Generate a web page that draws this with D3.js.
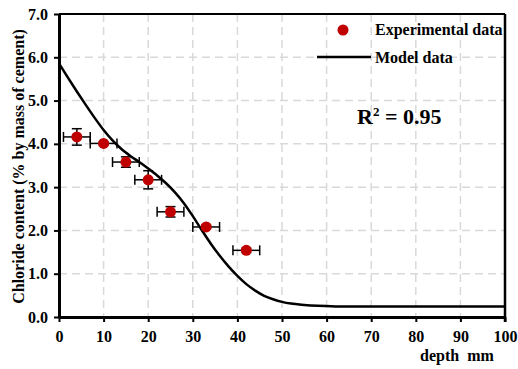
<!DOCTYPE html>
<html lang="en">
<head>
<meta charset="UTF-8">
<title>Chloride profile</title>
<script src="https://d3js.org/d3.v7.min.js"></script>
<style>
    body { margin: 0; background: #fff; }
    svg { display: block; font-family: "Liberation Serif", "Times New Roman", serif; font-weight: bold; }
</style>
</head>
<body>
<svg id="chart" width="518" height="369"></svg>
<script>
    // experimental points
    const expDepth = [4, 10, 15, 20, 25, 33, 42];
    const expValue = [4.16, 4.01, 3.58, 3.17, 2.43, 2.08, 1.54];
    const expErrX = [3, 3, 3, 3, 3, 3, 3];
    const expErrY = [0.19, 0.03, 0.12, 0.21, 0.12, 0.04, 0.05];

    // model curve
    const modelDepth = [0, 2, 4, 6, 8, 10, 12, 14, 16, 18, 20, 22, 24, 26, 28, 30, 32, 34, 36, 38, 40, 42, 44, 46, 48, 50, 52, 55, 58, 62, 66, 70, 80, 90, 100];
    const modelValue = [5.86, 5.53, 5.21, 4.90, 4.60, 4.32, 4.08, 3.88, 3.72, 3.58, 3.43, 3.27, 3.09, 2.88, 2.63, 2.33, 2.01, 1.70, 1.42, 1.17, 0.95, 0.76, 0.61, 0.49, 0.41, 0.35, 0.31, 0.28, 0.26, 0.245, 0.24, 0.24, 0.24, 0.24, 0.24];

    const xTicks = [0, 10, 20, 30, 40, 50, 60, 70, 80, 90, 100];
    const yTicks = [0, 1, 2, 3, 4, 5, 6, 7];

    const svg = d3.select("#chart");
    const pLeft = 59, pRight = 505, pTop = 14, pBottom = 317;

    const x = d3.scaleLinear().domain([0, 100]).range([pLeft, pRight]);
    const y = d3.scaleLinear().domain([0, 7]).range([pBottom, pTop]);

    // grid
    svg.append("g").selectAll("line")
        .data(xTicks.slice(1, -1))
        .join("line")
        .attr("x1", d => x(d)).attr("x2", d => x(d))
        .attr("y1", pTop).attr("y2", pBottom)
        .attr("stroke", "#d9d9d9").attr("stroke-width", 1.5)
        .attr("stroke-dasharray", "8,5");
    svg.append("g").selectAll("line")
        .data(yTicks.slice(1, -1))
        .join("line")
        .attr("x1", pLeft).attr("x2", pRight)
        .attr("y1", d => y(d)).attr("y2", d => y(d))
        .attr("stroke", "#d9d9d9").attr("stroke-width", 1.5)
        .attr("stroke-dasharray", "8,5");

    // frame top / right
    svg.append("line").attr("x1", pLeft).attr("x2", pRight).attr("y1", pTop).attr("y2", pTop)
        .attr("stroke", "#000").attr("stroke-width", 2);
    svg.append("line").attr("x1", pRight).attr("x2", pRight).attr("y1", pTop).attr("y2", pBottom + 5)
        .attr("stroke", "#000").attr("stroke-width", 2.5);

    // axes
    const xAxis = svg.append("g")
        .attr("transform", `translate(0,${pBottom})`)
        .call(d3.axisBottom(x).tickValues(xTicks).tickFormat(d3.format("d")).tickSize(5).tickPadding(9).tickSizeOuter(0));
    const yAxis = svg.append("g")
        .attr("transform", `translate(${pLeft},0)`)
        .call(d3.axisLeft(y).tickValues(yTicks).tickFormat(d3.format(".1f")).tickSize(5).tickPadding(6).tickSizeOuter(0));

    [xAxis, yAxis].forEach(g => {
        g.select(".domain").attr("stroke", "#000").attr("stroke-width", 3);
        g.selectAll(".tick line").attr("stroke", "#000").attr("stroke-width", 2);
        g.selectAll(".tick text")
            .attr("fill", "#000")
            .style("font-family", "'Liberation Serif', serif")
            .style("font-weight", "bold")
            .style("font-size", "16px");
    });

    // model line
    const line = d3.line()
        .x((d, i) => x(modelDepth[i]))
        .y(d => y(d))
        .curve(d3.curveMonotoneX);
    svg.append("path")
        .datum(modelValue)
        .attr("fill", "none")
        .attr("stroke", "#000")
        .attr("stroke-width", 2.5)
        .attr("d", line);

    // error bars
    const eb = svg.append("g").attr("stroke", "#000").attr("stroke-width", 1.5);
    expDepth.forEach((d, i) => {
        const cx = x(d), cy = y(expValue[i]);
        const x0 = x(d - expErrX[i]), x1 = x(d + expErrX[i]);
        eb.append("line").attr("x1", x0).attr("x2", x1).attr("y1", cy).attr("y2", cy);
        eb.append("line").attr("x1", x0).attr("x2", x0).attr("y1", cy - 5).attr("y2", cy + 5);
        eb.append("line").attr("x1", x1).attr("x2", x1).attr("y1", cy - 5).attr("y2", cy + 5);
        const y0 = y(expValue[i] - expErrY[i]), y1 = y(expValue[i] + expErrY[i]);
        eb.append("line").attr("x1", cx).attr("x2", cx).attr("y1", y0).attr("y2", y1);
        eb.append("line").attr("x1", cx - 5).attr("x2", cx + 5).attr("y1", y0).attr("y2", y0);
        eb.append("line").attr("x1", cx - 5).attr("x2", cx + 5).attr("y1", y1).attr("y2", y1);
    });

    // points
    svg.append("g").selectAll("circle")
        .data(expDepth)
        .join("circle")
        .attr("cx", d => x(d))
        .attr("cy", (d, i) => y(expValue[i]))
        .attr("r", 5.5)
        .attr("fill", "#c00000");

    // axis titles
    svg.append("text")
        .attr("transform", `translate(24,${(pTop + pBottom) / 2 + 1}) rotate(-90)`)
        .attr("text-anchor", "middle")
        .style("font-size", "16px")
        .text("Chloride content (% by mass of cement)");
    svg.append("text")
        .attr("x", 420).attr("y", 361)
        .style("font-size", "16px")
        .style("white-space", "pre")
        .text("depth  mm");

    // legend
    svg.append("circle").attr("cx", 343).attr("cy", 30).attr("r", 5.5).attr("fill", "#c00000");
    svg.append("text").attr("x", 375).attr("y", 35).style("font-size", "16px").text("Experimental data");
    svg.append("line").attr("x1", 317).attr("x2", 371).attr("y1", 57).attr("y2", 57)
        .attr("stroke", "#000").attr("stroke-width", 2.5);
    svg.append("text").attr("x", 375).attr("y", 63).style("font-size", "16px").text("Model data");

    // R squared
    const r2 = svg.append("text").attr("x", 357).attr("y", 124).style("font-size", "22px");
    r2.append("tspan").text("R");
    r2.append("tspan").attr("dy", -8).style("font-size", "13px").text("2");
    r2.append("tspan").attr("dy", 8).text(" = 0.95");
</script>
</body>
</html>
